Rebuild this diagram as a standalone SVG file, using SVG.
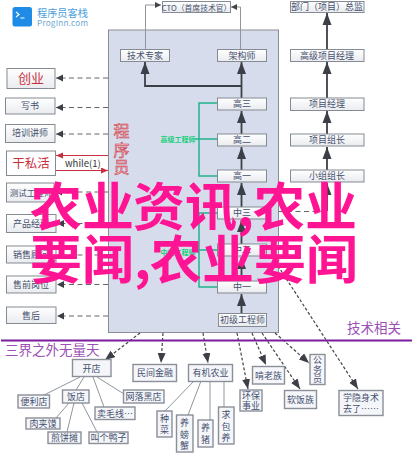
<svg xmlns="http://www.w3.org/2000/svg" width="415" height="454" viewBox="0 0 415 454">
<style>
text{font-family:"Noto Sans CJK SC","Liberation Sans",sans-serif}
.n rect{fill:url(#g);stroke:#858b92;stroke-width:1}
.n text{font-size:9px;fill:#46506e;text-anchor:middle}
.b rect{fill:#f4f6fa;stroke:#8a8f98;stroke-width:1.4}
.t{fill:none;stroke:#3c3f46;stroke-width:1.8}
.d{fill:none;stroke:#666;stroke-width:1.2;stroke-dasharray:5 3.5}
.dd{fill:none;stroke:#444;stroke-width:1.2;stroke-dasharray:3 2}
.r{fill:none;stroke:#c8303f;stroke-width:1.2}
.gr{fill:none;stroke:#20b48a;stroke-width:1.5}
.l{fill:none;stroke:#8f969e;stroke-width:1}
.big{font-size:52px;font-weight:700;fill:#ff1493}
</style>
<defs>
<linearGradient id="g" x1="0" y1="0" x2="0" y2="1"><stop offset="0" stop-color="#fff"/><stop offset="1" stop-color="#e9ebef"/></linearGradient>
<marker id="big" markerUnits="userSpaceOnUse" markerWidth="13" markerHeight="10" refX="12" refY="5" orient="auto"><path d="M0 0.500L12 5L0 9.500Z" fill="#3c3f46"/></marker>
<marker id="sm" markerUnits="userSpaceOnUse" markerWidth="7" markerHeight="7" refX="6" refY="3" orient="auto"><path d="M0 0L6 3L0 6Z" fill="#444"/></marker>
<marker id="mid" markerUnits="userSpaceOnUse" markerWidth="8" markerHeight="8" refX="7" refY="3.500" orient="auto"><path d="M0 0L7 3.500L0 7Z" fill="#3c3f46"/></marker>
<marker id="low" markerUnits="userSpaceOnUse" markerWidth="11" markerHeight="9" refX="10" refY="4" orient="auto"><path d="M0 0L10 4L0 8Z" fill="#3c3f46"/></marker>
<marker id="red" markerUnits="userSpaceOnUse" markerWidth="8" markerHeight="7" refX="7" refY="3" orient="auto"><path d="M0 0L7 3L0 6Z" fill="#c8303f"/></marker>
</defs>
<rect width="415" height="454" fill="#fff"/>
<g id="logo">
<rect x="12.500" y="7" width="19.500" height="19.500" rx="2.500" fill="#1e8ce6"/>
<path d="M16 12l3 2.500l-3 2.500M20.500 18h4" fill="none" stroke="#fff" stroke-width="1.200"/>
<text x="37" y="17" font-size="10.200" fill="#4b9fdc">程序员客栈</text>
<text x="37" y="26" font-size="8.200" fill="#6fa8d2" font-family="Liberation Sans" textLength="51">ProgInn.com</text>
</g>
<rect id="panel" x="108.500" y="30" width="170" height="302.500" fill="#d6dcec" stroke="#8a8d96" stroke-width="1"/>
<g id="connectors">
<path class="l" d="M145.500 49V5H161" marker-end="url(#sm)"/>
<path class="l" d="M240.500 49V7H231" marker-end="url(#sm)"/>
<path class="t" d="M241.500 86H145V62" marker-end="url(#big)"/>
<path class="t" d="M241.500 98V62" marker-end="url(#big)"/>
<path class="t" d="M241.500 134V111" marker-end="url(#big)"/>
<path class="t" d="M241.500 170V147" marker-end="url(#big)"/>
<path class="t" d="M241.500 207V183" marker-end="url(#big)"/>
<path class="t" d="M241.500 244V220" marker-end="url(#big)"/>
<path class="t" d="M241.500 281V257" marker-end="url(#big)"/>
<path class="t" d="M241.500 313V294" marker-end="url(#big)"/>
<path class="t" d="M327 49V13" marker-end="url(#big)"/>
<path class="t" d="M327 98V62" marker-end="url(#big)"/>
<path class="t" d="M327 134V111" marker-end="url(#big)"/>
<path class="t" d="M327 170V147" marker-end="url(#big)"/>
<path class="d" d="M278.500 211.500H327"/>
<path class="t" d="M327 211V183" marker-end="url(#big)"/>
<path class="d" d="M108 78H56" marker-end="url(#mid)"/>
<path class="d" d="M108 107.500H56" marker-end="url(#mid)"/>
<path class="d" d="M108 134H56" marker-end="url(#mid)"/>
<path class="d" d="M108 192H55" marker-end="url(#mid)"/>
<path class="d" d="M108 223.500H57" marker-end="url(#mid)"/>
<path class="d" d="M108 255H57" marker-end="url(#mid)"/>
<path class="d" d="M108 284.500H57" marker-end="url(#mid)"/>
<path class="d" d="M108 316H57" marker-end="url(#mid)"/>
<path class="r" d="M108 155.500H56" marker-end="url(#red)"/>
<path class="r" d="M56 170.500H108" marker-end="url(#red)"/>
<path class="gr" d="M217 103H199V176H217M199 139H217M195 139H199"/>
<path class="gr" d="M217 213H199V287H217M199 250H217M197 252H199"/>
<path class="l" d="M80 377L44 395M84 377L76 390M93 377L104 407M97 377L124 394M69 403L56 418M74 403L67 432M82 403L97 432"/>
<path class="l" d="M194 381L165 411M201 381L188 415M210 381V420M224 381V407"/>
<path class="dd" d="M140 333L105 360" marker-end="url(#low)"/>
<path class="dd" d="M163 333L161 363" marker-end="url(#low)"/>
<path class="dd" d="M203 333L208 363" marker-end="url(#low)"/>
<path class="dd" d="M237 333L248 389" marker-end="url(#low)"/>
<path class="dd" d="M252 333L266 365" marker-end="url(#low)"/>
<path class="dd" d="M262 333L300 389" marker-end="url(#low)"/>
<path class="dd" d="M275 333L309 363" marker-end="url(#low)"/>
<path class="dd" d="M278 266L358 389" marker-end="url(#low)"/>
</g>
<path id="divider" d="M1 340.500H412" stroke="#7a1d9a" stroke-width="2" fill="none"/>
<g id="while-label"><text x="65" y="167" font-size="9.500" fill="#333" font-family="Liberation Sans">while(1)</text></g>
<g id="programmer-label"><text x="121.500" y="137" font-size="16" text-anchor="middle" fill="#f6b9c0" stroke="#c8303f" stroke-width=".5">程</text><text x="121.500" y="156" font-size="16" text-anchor="middle" fill="#f6b9c0" stroke="#c8303f" stroke-width=".5">序</text><text x="121.500" y="173" font-size="16" text-anchor="middle" fill="#f6b9c0" stroke="#c8303f" stroke-width=".5">员</text></g>
<g id="senior-label"><text x="178" y="142" font-size="7" font-weight="700" fill="#18cf7c" text-anchor="middle">高级工程师</text></g>
<g id="mid-label"><text x="178" y="255" font-size="7" font-weight="700" fill="#18cf7c" text-anchor="middle">中级工程师</text></g>
<g id="cto" class="n"><rect x="162.500" y="1.500" width="68" height="11"/><text x="196.500" y="10.500" style="font-size:7.800px">CTO（首席技术官）</text></g>
<g id="n-jszj" class="n"><rect x="120.500" y="49.500" width="49" height="12"/><text x="145" y="58.500">技术专家</text></g>
<g id="n-jgs" class="n"><rect x="217.500" y="49.500" width="49" height="12"/><text x="242" y="58.500">架构师</text></g>
<g id="n-g3" class="n"><rect x="217.500" y="98" width="49" height="12"/><text x="242" y="107">高三</text></g>
<g id="n-g2" class="n"><rect x="217.500" y="134" width="49" height="12"/><text x="242" y="143">高二</text></g>
<g id="n-g1" class="n"><rect x="217.500" y="170" width="49" height="12"/><text x="242" y="179">高一</text></g>
<g id="n-z3" class="n"><rect x="217.500" y="207" width="49" height="12"/><text x="242" y="216">中三</text></g>
<g id="n-z2" class="n"><rect x="217.500" y="244" width="49" height="12"/><text x="242" y="253">中二</text></g>
<g id="n-z1" class="n"><rect x="217.500" y="281" width="49" height="12"/><text x="242" y="290">中一</text></g>
<g id="n-cj" class="n"><rect x="218.500" y="313.500" width="48" height="13"/><text x="242.500" y="323">初级工程师</text></g>
<g id="n-bm" class="n"><rect x="290.500" y="1.500" width="73.500" height="11"/><text x="327" y="10">部门（项目）总监</text></g>
<g id="n-gx" class="n"><rect x="290.500" y="49.500" width="73.500" height="12"/><text x="327" y="58.500">高级项目经理</text></g>
<g id="n-xm" class="n"><rect x="290.500" y="98" width="73.500" height="12.500"/><text x="327" y="107">项目经理</text></g>
<g id="n-zz" class="n"><rect x="290.500" y="134" width="73.500" height="12"/><text x="327" y="143">项目组长</text></g>
<g id="n-xz" class="n"><rect x="290.500" y="170" width="73.500" height="12"/><text x="327" y="179">小组组长</text></g>
<g id="n-cy" class="n"><rect x="7" y="68.500" width="48" height="20"/><text x="31" y="83" style="font-size:13px;fill:#c8303f">创业</text></g>
<g id="n-xs" class="n"><rect x="5.500" y="98" width="49.500" height="16"/><text x="30" y="109">写书</text></g>
<g id="n-px" class="n"><rect x="5.500" y="124.500" width="49.500" height="18"/><text x="30" y="136">培训讲师</text></g>
<g id="n-gsh" class="n"><rect x="6.500" y="151" width="49" height="24.500" style="fill:#fff"/><text x="31" y="168" style="font-size:12.500px;fill:#c8303f">干私活</text></g>
<g id="n-cs" class="n"><rect x="6.500" y="183" width="47.500" height="19"/><text x="31" y="196" style="font-size:8.500px">测试工程师</text></g>
<g id="n-cp" class="n"><rect x="6.500" y="214.500" width="49.500" height="18"/><text x="31" y="227">产品经理</text></g>
<g id="n-xsg" class="n"><rect x="6.500" y="246" width="49.500" height="17"/><text x="31" y="258">销售顾问</text></g>
<g id="n-sq" class="n"><rect x="6.500" y="276" width="49.500" height="17"/><text x="31" y="288">售前岗位</text></g>
<g id="n-sh" class="n"><rect x="6.500" y="307" width="49.500" height="16.500"/><text x="31" y="318.500">售后</text></g>
<g id="t-left"><text x="5" y="355" font-size="13.500" fill="#9a4fb5">三界之外无量天</text></g>
<g id="t-right"><text x="347" y="333" font-size="13.500" fill="#9a4fb5">技术相关</text></g>
<g id="b-kd" class="n b"><rect x="72.500" y="359.500" width="38.500" height="17"/><text x="91.500" y="371.500">开店</text></g>
<g id="b-mj" class="n b"><rect x="133" y="364.500" width="43.500" height="17"/><text x="155" y="376">民间金融</text></g>
<g id="b-yj" class="n b"><rect x="188.500" y="364.500" width="44" height="17"/><text x="210.500" y="376">有机农业</text></g>
<g id="b-bl" class="n b"><rect x="18" y="395" width="31.500" height="13"/><text x="34" y="404.500">便利店</text></g>
<g id="b-fd" class="n b"><rect x="62.500" y="390" width="26.500" height="13"/><text x="76" y="399.500">饭店</text></g>
<g id="b-wl" class="n b"><rect x="123.500" y="390" width="40.500" height="13"/><text x="143.500" y="399.500">网落黑店</text></g>
<g id="b-mx" class="n b"><rect x="95" y="407" width="40" height="12.500"/><text x="115" y="416.500">卖毛线…</text></g>
<g id="b-rj" class="n b"><rect x="26" y="418" width="34" height="11"/><text x="43" y="426.500">肉夹馍</text></g>
<g id="b-jb" class="n b"><rect x="48" y="432" width="33" height="11.500"/><text x="64.500" y="441">煎饼摊</text></g>
<g id="b-yz" class="n b"><rect x="89" y="432" width="39" height="11.500"/><text x="108.500" y="441">叫个鸭子</text></g>
<g id="b-zc" class="n b"><rect x="157" y="411" width="15" height="26"/><text x="164.500" y="421.500">种</text><text x="164.500" y="433">菜</text></g>
<g id="b-px" class="n b"><rect x="176.500" y="415" width="16.500" height="37"/><text x="184.500" y="426">养</text><text x="184.500" y="437.500">螃</text><text x="184.500" y="449">蟹</text></g>
<g id="b-yzh" class="n b"><rect x="198" y="420" width="15" height="27"/><text x="205.500" y="431">养</text><text x="205.500" y="442.500">猪</text></g>
<g id="b-qb" class="n b"><rect x="218.500" y="407" width="15.500" height="37"/><text x="226" y="418">求</text><text x="226" y="429.500">包</text><text x="226" y="441">养</text></g>
<g id="b-hb" class="n b"><rect x="240" y="390" width="22" height="21"/><text x="251" y="399">环保</text><text x="251" y="408.500">事业</text></g>
<g id="b-kl" class="n b"><rect x="252.500" y="366.500" width="32" height="17.500"/><text x="268.500" y="378.500">啃老族</text></g>
<g id="b-rf" class="n b"><rect x="284.500" y="390.500" width="32" height="18"/><text x="300.500" y="402.500">软饭族</text></g>
<g id="b-gw" class="n b"><rect x="310" y="354.500" width="15" height="30"/><text x="317.500" y="363">公</text><text x="317.500" y="372.500">务</text><text x="317.500" y="382">员</text></g>
<g id="b-xy" class="n b"><rect x="339" y="390.500" width="44" height="25"/><text x="361" y="400.500">学隐身术</text><text x="361" y="411.500">去了……</text></g>
<g id="overlay"><text class="big" x="30 82 133 185 237 253 305" y="226">农业资讯,农业</text><text class="big" x="30 82 134 150 202 254 306" y="279">要闻,农业要闻</text></g>
</svg>
